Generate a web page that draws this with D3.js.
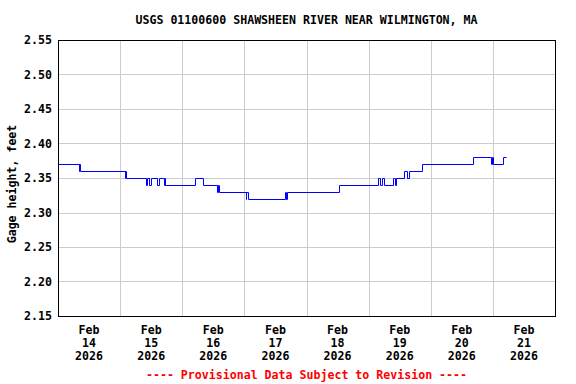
<!DOCTYPE html>
<html><head><meta charset="utf-8">
<script src="https://cdn.jsdelivr.net/npm/d3@7"></script>
<style>body{margin:0;background:#fff}svg{display:block}text{font-family:"DejaVu Sans Mono","Liberation Mono",monospace;font-weight:bold;font-size:11.6px}</style>
</head><body><svg id="c" width="576" height="384"></svg>
<script>
const title = "USGS 01100600 SHAWSHEEN RIVER NEAR WILMINGTON, MA";
const yLabel = "Gage height, feet";
const footer = "---- Provisional Data Subject to Revision ----";
const yTicks = [2.15, 2.20, 2.25, 2.30, 2.35, 2.40, 2.45, 2.50, 2.55];
const dayLabels = ["2026-02-14","2026-02-15","2026-02-16","2026-02-17","2026-02-18","2026-02-19","2026-02-20","2026-02-21"];
// change points of the gage height step series (time, feet)
const times = [
 "2026-02-14 00:00","2026-02-14 08:00","2026-02-14 08:15","2026-02-14 08:30",
 "2026-02-15 01:45","2026-02-15 02:00","2026-02-15 02:15",
 "2026-02-15 10:00","2026-02-15 10:30","2026-02-15 11:15","2026-02-15 12:00","2026-02-15 14:15","2026-02-15 15:00","2026-02-15 17:00","2026-02-15 17:15","2026-02-15 17:30",
 "2026-02-16 04:45","2026-02-16 08:00","2026-02-16 13:15","2026-02-16 13:45","2026-02-16 14:15",
 "2026-02-17 00:30","2026-02-17 00:45","2026-02-17 01:15",
 "2026-02-17 15:45","2026-02-17 16:00","2026-02-17 16:30",
 "2026-02-18 12:30",
 "2026-02-19 03:45","2026-02-19 04:30","2026-02-19 05:15","2026-02-19 06:00","2026-02-19 09:30","2026-02-19 10:00","2026-02-19 10:30",
 "2026-02-19 13:45","2026-02-19 15:00","2026-02-19 15:45","2026-02-19 20:30",
 "2026-02-20 16:15","2026-02-20 23:15","2026-02-20 23:30","2026-02-21 00:00","2026-02-21 03:45","2026-02-21 05:15"];
const values = [
 2.37,2.36,2.37,2.36,
 2.35,2.36,2.35,
 2.34,2.35,2.34,2.35,2.34,2.35,2.34,2.35,2.34,
 2.35,2.34,2.33,2.34,2.33,
 2.32,2.33,2.32,
 2.33,2.32,2.33,
 2.34,
 2.35,2.34,2.35,2.34,2.35,2.34,2.35,
 2.36,2.35,2.36,2.37,
 2.38,2.37,2.38,2.37,2.38,2.38];

const parse = d3.timeParse("%Y-%m-%d %H:%M");
const parseDay = d3.timeParse("%Y-%m-%d");
const data = times.map((t,i)=>({t:parse(t), v:values[i]}));

const L=58, R=555, T=40, B=316;
const svg = d3.select("#c");
const x = d3.scaleTime().domain([parseDay("2026-02-14"), parseDay("2026-02-22")]).range([L,R]);
const y = d3.scaleLinear().domain([2.15,2.55]).range([B,T]);

// grid
const days = d3.timeDay.range(parseDay("2026-02-15"), parseDay("2026-02-22"));
svg.append("g").selectAll("line").data(days).join("line")
  .attr("x1",d=>Math.round(x(d))+0.5).attr("x2",d=>Math.round(x(d))+0.5)
  .attr("y1",T).attr("y2",B).attr("stroke","#cccccc").attr("stroke-width",1);
svg.append("g").selectAll("line").data(yTicks.slice(1,-1)).join("line")
  .attr("y1",d=>Math.round(y(d))+0.5).attr("y2",d=>Math.round(y(d))+0.5)
  .attr("x1",L).attr("x2",R).attr("stroke","#cccccc").attr("stroke-width",1);

// series
const line = d3.line().x(d=>Math.round(x(d.t))+0.5).y(d=>Math.round(y(d.v))+0.5).curve(d3.curveStepAfter);
svg.append("path").datum(data).attr("d",line).attr("fill","none").attr("stroke","#0000ff").attr("stroke-width",1);

// frame
svg.append("rect").attr("x",L+0.5).attr("y",T+0.5).attr("width",R-L).attr("height",B-T)
  .attr("fill","none").attr("stroke","#000").attr("stroke-width",1);

// y labels
svg.append("g").selectAll("text").data(yTicks).join("text")
  .attr("x",52).attr("y",d=>y(d)+4).attr("text-anchor","end").text(d=>d.toFixed(2));

// x labels
const fmtM = d3.timeFormat("%b"), fmtD = d3.timeFormat("%d"), fmtY = d3.timeFormat("%Y");
const xl = svg.append("g").selectAll("g").data(dayLabels.map(parseDay)).join("g")
  .attr("transform",d=>`translate(${x(d3.timeHour.offset(d,12))},0)`);
xl.append("text").attr("y",334).attr("text-anchor","middle").text(d=>fmtM(d));
xl.append("text").attr("y",347).attr("text-anchor","middle").text(d=>fmtD(d));
xl.append("text").attr("y",360).attr("text-anchor","middle").text(d=>fmtY(d));

// title, axis label, footer
svg.append("text").attr("x",(L+R)/2).attr("y",24).attr("text-anchor","middle").text(title);
svg.append("text").attr("transform","translate(16,184) rotate(-90)").attr("text-anchor","middle").text(yLabel);
svg.append("text").attr("x",(L+R)/2).attr("y",379).attr("text-anchor","middle").attr("fill","#ff0000").text(footer);
</script></body></html>
